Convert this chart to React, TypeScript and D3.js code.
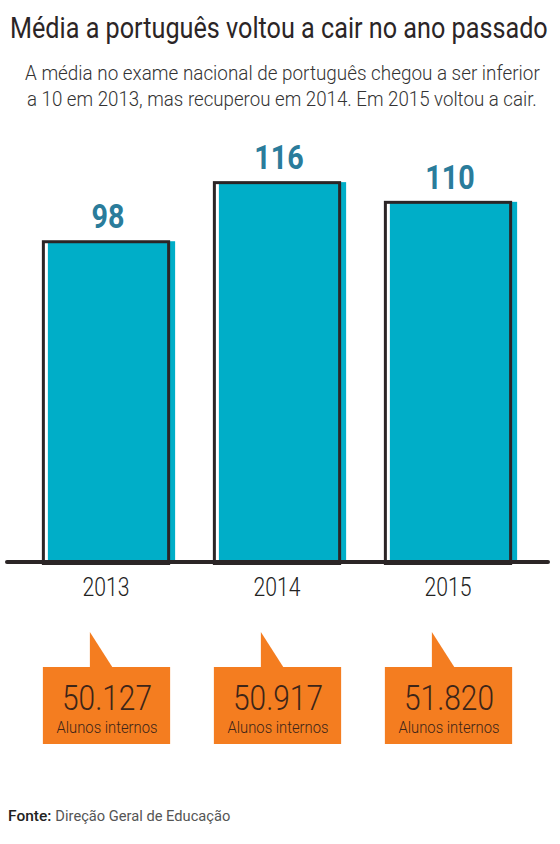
import React, { useLayoutEffect, useRef, useState } from "react";
import * as d3 from "d3";

const years = ["2013", "2014", "2015"];
const means = [98, 116, 110];
const students = ["50.127", "50.917", "51.820"];
const studentLabel = "Alunos internos";

const W = 560, H = 844;
const baseY = 562;

type FitProps = { x: number; y: number; width: number; anchor?: "start" | "middle"; children: React.ReactNode; [k: string]: any };

function FitText({ x, y, width, anchor = "start", children, ...rest }: FitProps) {
  const ref = useRef<SVGTextElement>(null);
  const [k, setK] = useState(1);
  useLayoutEffect(() => {
    if (ref.current) {
      const w = ref.current.getComputedTextLength();
      if (w > 0) setK(width / w);
    }
  }, [width]);
  return (
    <g transform={`translate(${x},${y}) scale(${k},1)`}>
      <text ref={ref} x={0} y={0} textAnchor={anchor} {...rest}>{children}</text>
    </g>
  );
}

export default function App() {
  const x = d3.scaleBand<string>().domain(years).range([20.5, 533.5]).paddingInner(0.25).paddingOuter(0.125);
  const y = d3.scaleLinear().domain([0, 120]).range([baseY, 168]);
  const bw = x.bandwidth();
  const font = "Roboto, 'Noto Sans', sans-serif";
  return (
    <svg width={W} height={H} style={{ position: "absolute", left: 0, top: 0, background: "#fff" }} fontFamily={font}>
      <FitText x={10} y={38} width={538} fontSize={29} fill="#2b2526">Média a português voltou a cair no ano passado</FitText>
      <FitText x={25} y={80} width={515} fontSize={21} fontWeight={300} fill="#333">A média no exame nacional de português chegou a ser inferior</FitText>
      <FitText x={27} y={106} width={510} fontSize={21} fontWeight={300} fill="#333">a 10 em 2013, mas recuperou em 2014. Em 2015 voltou a cair.</FitText>
      {years.map((yr, i) => {
        const x0 = x(yr)!;
        const top = y(means[i]);
        const cx = x0 + bw / 2;
        return (
          <g key={yr}>
            <rect x={x0 + 6} y={top + 1} width={bw - 1} height={baseY - top - 1} fill="#00aec8" />
            <rect x={x0 + 1.5} y={top + 1.5} width={bw - 3} height={baseY - top} fill="none" stroke="#2b2526" strokeWidth={3} />
            <FitText x={cx + 2} y={top - 12} anchor="middle" width={String(means[i]).length * 16.5} fontSize={33} fontWeight={700} fill="#2a7c9b">{means[i]}</FitText>
            <FitText x={cx} y={596} anchor="middle" width={47} fontSize={25} fontWeight={300} fill="#222">{yr}</FitText>
            <path d={`M${x0 + 48},632 L${x0 + 48},668 L${x0 + 71},668 Z`} fill="#f47d20" />
            <rect x={x0 + 1} y={667} width={bw - 1} height={77} fill="#f47d20" />
            <FitText x={cx + 1} y={710} anchor="middle" width={90} fontSize={36} fontWeight={300} fill="#3d2518">{students[i]}</FitText>
            <FitText x={cx + 1} y={733} anchor="middle" width={101} fontSize={17} fontWeight={300} fill="#3d2518">{studentLabel}</FitText>
          </g>
        );
      })}
      <line x1={7} x2={548} y1={baseY} y2={baseY} stroke="#2b2526" strokeWidth={4} strokeLinecap="round" />
      <text x={8} y={821} fontSize={15.5}>
        <tspan fontWeight={500} fill="#222">Fonte:</tspan>
        <tspan fill="#555" dx={4} textLength={175} lengthAdjust="spacingAndGlyphs">Direção Geral de Educação</tspan>
      </text>
    </svg>
  );
}
